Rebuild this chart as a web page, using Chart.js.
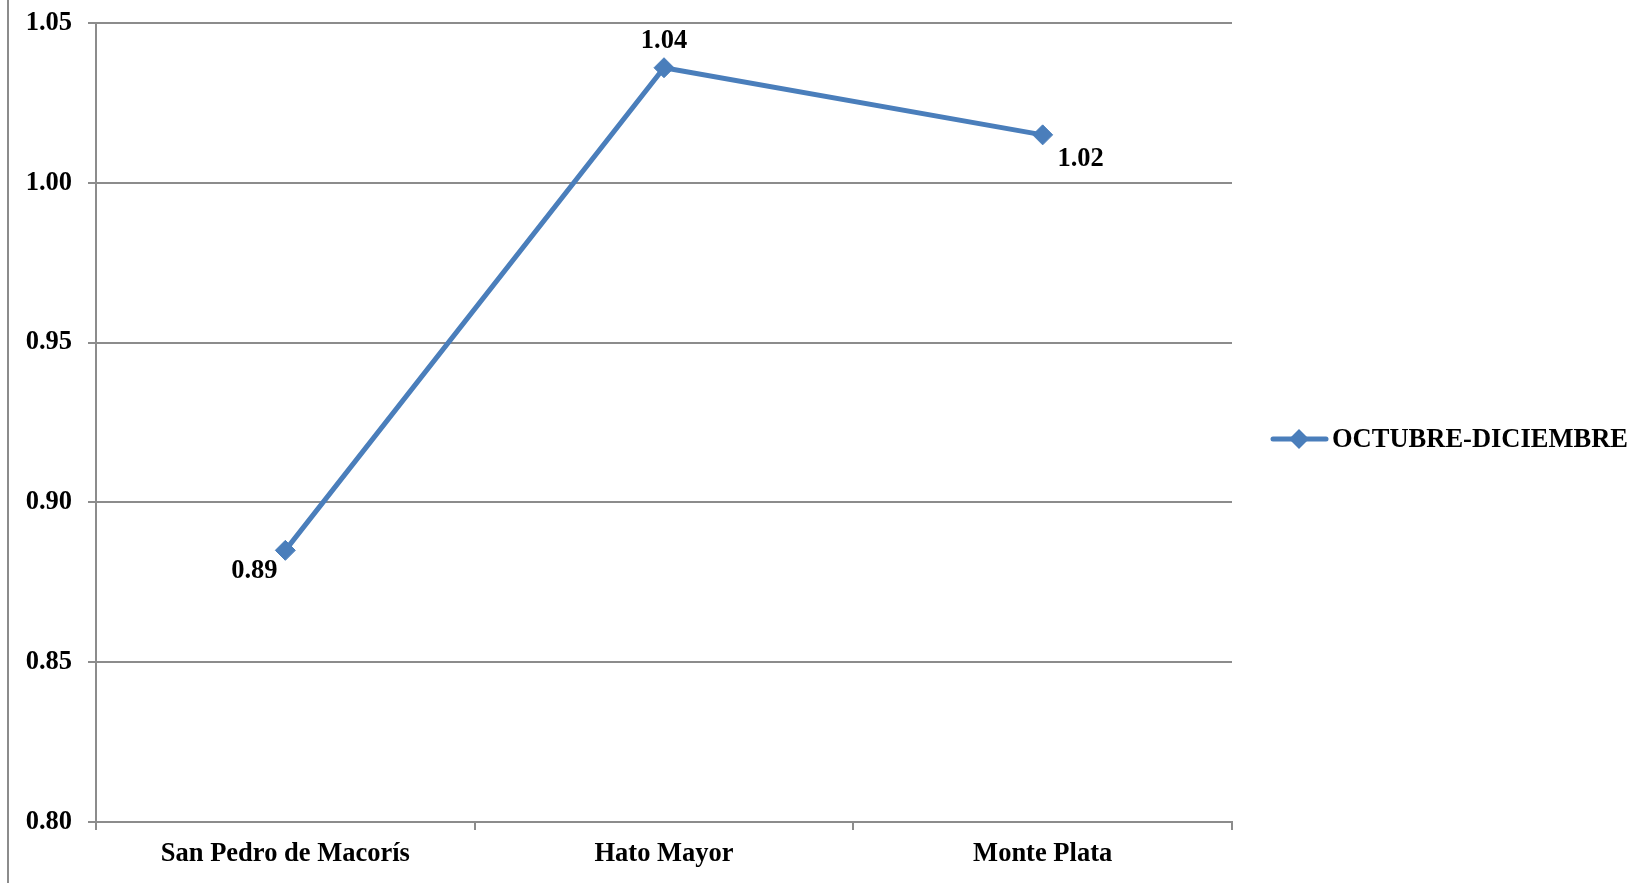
<!DOCTYPE html>
<html>
<head>
<meta charset="utf-8">
<script src="https://cdn.jsdelivr.net/npm/chart.js@4/dist/chart.umd.min.js"></script>
<style>
    html, body { margin: 0; padding: 0; background: #fff; }
    #wrap { position: relative; width: 1633px; height: 883px; }
    #frame { position: absolute; left: 7px; top: 0; width: 0; height: 883px; border-left: 2px solid #8c8c8c; }
</style>
</head>
<body>
<div id="wrap">
    <div id="frame"></div>
    <canvas id="chartMain" width="1633" height="883"></canvas>
</div>
<script>
// ========== DATA ==========
const categories = ['San Pedro de Macorís', 'Hato Mayor', 'Monte Plata'];
const seriesName = 'OCTUBRE-DICIEMBRE';
const seriesValues = [0.885, 1.036, 1.015];
const valueLabels = ['0.89', '1.04', '1.02'];
const yTicks = [0.80, 0.85, 0.90, 0.95, 1.00, 1.05];

const BLUE = '#4a7ebb';
const GRID = '#8c8c8c';
const FONT = { family: '"Liberation Serif", "Times New Roman", serif', size: 26.5, weight: 'bold' };

// label offsets relative to each point (dx, dy)
const labelOffsets = [[-31, 21], [0, -27], [38, 24]];

// ========== PLUGINS ==========
const pointLabels = {
    id: 'pointLabels',
    afterDatasetsDraw(chart) {
        const ctx = chart.ctx;
        const meta = chart.getDatasetMeta(0);
        ctx.save();
        ctx.font = `${FONT.weight} ${FONT.size}px ${FONT.family}`;
        ctx.fillStyle = '#000';
        ctx.textAlign = 'center';
        ctx.textBaseline = 'middle';
        meta.data.forEach((pt, i) => {
            const [dx, dy] = labelOffsets[i];
            ctx.fillText(valueLabels[i], pt.x + dx, pt.y + dy);
        });
        ctx.restore();
    }
};

const sideLegend = {
    id: 'sideLegend',
    afterDraw(chart) {
        const ctx = chart.ctx;
        const y = 439;
        ctx.save();
        ctx.strokeStyle = BLUE;
        ctx.lineWidth = 5;
        ctx.lineCap = 'round';
        ctx.beginPath();
        ctx.moveTo(1273, y);
        ctx.lineTo(1326, y);
        ctx.stroke();
        ctx.fillStyle = BLUE;
        ctx.beginPath();
        ctx.moveTo(1299 - 10, y);
        ctx.lineTo(1299, y - 10);
        ctx.lineTo(1299 + 10, y);
        ctx.lineTo(1299, y + 10);
        ctx.closePath();
        ctx.fill();
        ctx.font = `${FONT.weight} ${FONT.size}px ${FONT.family}`;
        ctx.fillStyle = '#000';
        ctx.textAlign = 'left';
        ctx.textBaseline = 'middle';
        ctx.fillText(seriesName, 1332, y + 1);
        ctx.restore();
    }
};

// ========== CHART ==========
new Chart(document.getElementById('chartMain').getContext('2d'), {
    type: 'line',
    data: {
        labels: categories,
        datasets: [{
            label: seriesName,
            data: seriesValues,
            borderColor: BLUE,
            backgroundColor: BLUE,
            borderWidth: 5,
            pointStyle: 'rectRot',
            pointRadius: 10,
            pointBorderWidth: 1,
            pointBackgroundColor: BLUE,
            pointBorderColor: BLUE,
            tension: 0
        }]
    },
    options: {
        responsive: false,
        animation: false,
        layout: { padding: { top: 23, right: 401, left: 0, bottom: 0 } },
        plugins: {
            legend: { display: false },
            tooltip: { enabled: false }
        },
        scales: {
            x: {
                offset: true,
                afterFit(scale) {
                    scale.height = 61;
                    scale.paddingLeft = 0;
                    scale.paddingRight = 0;
                },
                grid: {
                    offset: true,
                    drawOnChartArea: false,
                    drawTicks: true,
                    tickLength: 8,
                    color: GRID,
                    lineWidth: 2
                },
                border: { display: true, color: GRID, width: 2 },
                ticks: { color: '#000', font: FONT, padding: 8, maxRotation: 0 }
            },
            y: {
                min: 0.80,
                max: 1.05,
                afterFit(scale) {
                    scale.width = 96;
                    scale.paddingTop = 0;
                    scale.paddingBottom = 0;
                },
                afterBuildTicks(scale) { scale.ticks = yTicks.map(v => ({ value: v })); },
                grid: { color: GRID, lineWidth: 2, tickLength: 8 },
                border: { display: true, color: GRID, width: 2 },
                ticks: {
                    color: '#000',
                    font: FONT,
                    padding: 16,
                    callback: v => Number(v).toFixed(2)
                }
            }
        }
    },
    plugins: [pointLabels, sideLegend]
});
</script>
</body>
</html>
